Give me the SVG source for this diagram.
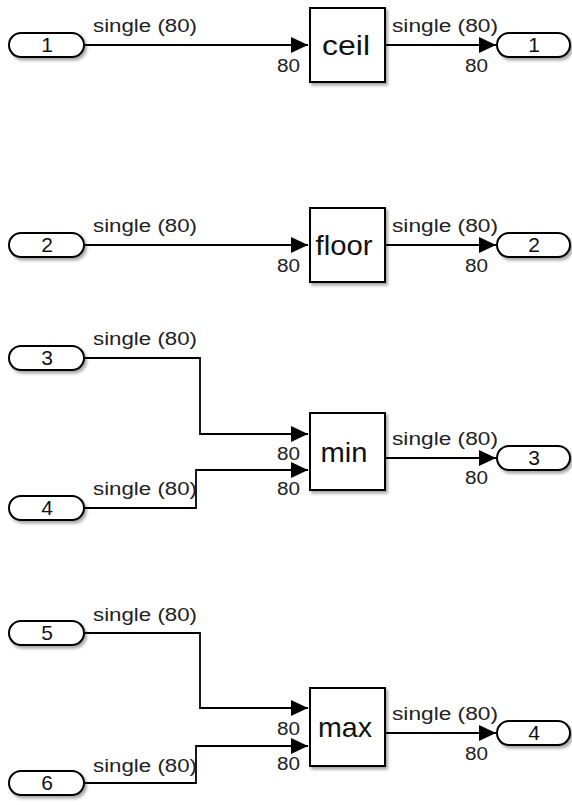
<svg xmlns="http://www.w3.org/2000/svg" width="572" height="805" viewBox="0 0 572 805">
<defs>
<filter id="sh" x="-20%" y="-20%" width="140%" height="160%">
<feDropShadow dx="2" dy="2.5" stdDeviation="1.5" flood-color="#000" flood-opacity="0.35"/>
</filter>
<marker id="arr" markerUnits="userSpaceOnUse" markerWidth="17" markerHeight="16" refX="17" refY="8" orient="auto" viewBox="0 0 17 16">
<path d="M0,0 L17,8 L0,16 Z" fill="#000"/>
</marker>
</defs>
<style>
.port{fill:#fff;stroke:#000;stroke-width:2;filter:url(#sh)}
.blk{fill:#fff;stroke:#000;stroke-width:2;filter:url(#sh)}
.pt{font-family:"Liberation Sans",Arial,sans-serif;font-size:21px;fill:#111;text-anchor:middle}
.bt{font-family:"Liberation Sans",Arial,sans-serif;font-size:28px;fill:#111;text-anchor:middle}
.lb{font-family:"Liberation Sans",Arial,sans-serif;font-size:18px;fill:#222}
.conn{fill:none;stroke:#000;stroke-width:1.8;marker-end:url(#arr)}
</style>
<rect width="572" height="805" fill="#fff"/>

<g id="connectors">
<path class="conn" d="M84,45 H308"/>
<path class="conn" d="M385,45 H496"/>
<path class="conn" d="M84,245 H308"/>
<path class="conn" d="M385,245 H496"/>
<path class="conn" d="M84,358 H200 V434 H308"/>
<path class="conn" d="M84,508 H196 V470 H308"/>
<path class="conn" d="M385,458 H496"/>
<path class="conn" d="M84,633 H200 V708 H308"/>
<path class="conn" d="M84,783 H196 V746 H308"/>
<path class="conn" d="M385,733 H496"/>
</g>

<g id="labels">
<text class="lb" x="93" y="32" textLength="104" lengthAdjust="spacingAndGlyphs">single (80)</text>
<text class="lb" x="277" y="72" textLength="23" lengthAdjust="spacingAndGlyphs">80</text>
<text class="lb" x="392" y="32" textLength="106" lengthAdjust="spacingAndGlyphs">single (80)</text>
<text class="lb" x="465" y="72" textLength="23" lengthAdjust="spacingAndGlyphs">80</text>

<text class="lb" x="93" y="232" textLength="104" lengthAdjust="spacingAndGlyphs">single (80)</text>
<text class="lb" x="277" y="272" textLength="23" lengthAdjust="spacingAndGlyphs">80</text>
<text class="lb" x="392" y="232" textLength="106" lengthAdjust="spacingAndGlyphs">single (80)</text>
<text class="lb" x="465" y="272" textLength="23" lengthAdjust="spacingAndGlyphs">80</text>

<text class="lb" x="93" y="345" textLength="104" lengthAdjust="spacingAndGlyphs">single (80)</text>
<text class="lb" x="93" y="495" textLength="104" lengthAdjust="spacingAndGlyphs">single (80)</text>
<text class="lb" x="277" y="460" textLength="23" lengthAdjust="spacingAndGlyphs">80</text>
<text class="lb" x="277" y="495" textLength="23" lengthAdjust="spacingAndGlyphs">80</text>
<text class="lb" x="392" y="445" textLength="106" lengthAdjust="spacingAndGlyphs">single (80)</text>
<text class="lb" x="465" y="484" textLength="23" lengthAdjust="spacingAndGlyphs">80</text>

<text class="lb" x="93" y="621" textLength="104" lengthAdjust="spacingAndGlyphs">single (80)</text>
<text class="lb" x="93" y="772" textLength="104" lengthAdjust="spacingAndGlyphs">single (80)</text>
<text class="lb" x="277" y="735" textLength="23" lengthAdjust="spacingAndGlyphs">80</text>
<text class="lb" x="277" y="770" textLength="23" lengthAdjust="spacingAndGlyphs">80</text>
<text class="lb" x="392" y="720" textLength="106" lengthAdjust="spacingAndGlyphs">single (80)</text>
<text class="lb" x="465" y="760" textLength="23" lengthAdjust="spacingAndGlyphs">80</text>
</g>

<g id="in1"><rect class="port" x="9" y="33" width="75" height="24" rx="12"/><text class="pt" x="47" y="52">1</text></g>
<g id="in2"><rect class="port" x="9" y="233" width="75" height="24" rx="12"/><text class="pt" x="47" y="252">2</text></g>
<g id="in3"><rect class="port" x="9" y="346" width="75" height="24" rx="12"/><text class="pt" x="47" y="365">3</text></g>
<g id="in4"><rect class="port" x="9" y="496" width="75" height="24" rx="12"/><text class="pt" x="47" y="515">4</text></g>
<g id="in5"><rect class="port" x="9" y="621" width="75" height="24" rx="12"/><text class="pt" x="47" y="640">5</text></g>
<g id="in6"><rect class="port" x="9" y="771" width="75" height="24" rx="12"/><text class="pt" x="47" y="790">6</text></g>

<g id="ceil"><rect class="blk" x="310" y="8" width="75" height="74"/><text class="bt" x="346" y="55" textLength="48" lengthAdjust="spacingAndGlyphs">ceil</text></g>
<g id="floor"><rect class="blk" x="310" y="208" width="75" height="74"/><text class="bt" x="344" y="255" textLength="57" lengthAdjust="spacingAndGlyphs">floor</text></g>
<g id="min"><rect class="blk" x="310" y="413" width="75" height="77"/><text class="bt" x="344" y="462" textLength="47" lengthAdjust="spacingAndGlyphs">min</text></g>
<g id="max"><rect class="blk" x="310" y="688" width="75" height="78"/><text class="bt" x="345" y="737" textLength="54" lengthAdjust="spacingAndGlyphs">max</text></g>

<g id="out1"><rect class="port" x="497" y="33" width="73" height="24" rx="12"/><text class="pt" x="534" y="52">1</text></g>
<g id="out2"><rect class="port" x="497" y="233" width="73" height="24" rx="12"/><text class="pt" x="534" y="252">2</text></g>
<g id="out3"><rect class="port" x="497" y="446" width="73" height="24" rx="12"/><text class="pt" x="534" y="465">3</text></g>
<g id="out4"><rect class="port" x="497" y="721" width="73" height="24" rx="12"/><text class="pt" x="534" y="740">4</text></g>
</svg>
